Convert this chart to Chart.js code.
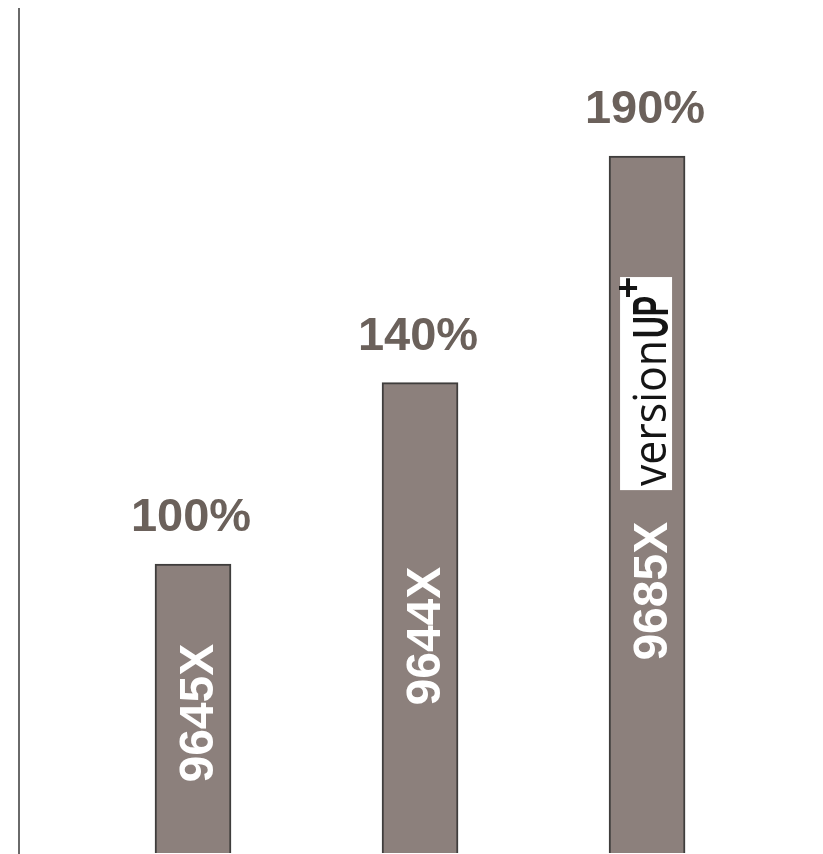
<!DOCTYPE html>
<html><head><meta charset="utf-8">
<script src="https://cdn.jsdelivr.net/npm/chart.js@4.4.1/dist/chart.umd.min.js"></script>
<style>html,body{margin:0;padding:0;background:#fff;overflow:hidden}#wrap{width:823px;height:854px}canvas{display:block}</style>
</head><body><div id="wrap"><canvas id="c" width="823" height="854" style="width:823px;height:854px"></canvas></div>
<script>
const categories = ['9645X', '9644X', '9685X'];
const performance = [100, 140, 190];
const valueLabels = ['100%', '140%', '190%'];
const logoParts = ['version', 'UP', '+'];

const barLabels = {
  id: 'barLabels',
  afterDatasetsDraw(chart, args, opts) {
    const ctx = chart.ctx;
    const ys = chart.scales.y;
    const meta = chart.getDatasetMeta(0);
    meta.data.forEach((bar, i) => {
      ctx.save();
      ctx.font = 'bold 47px "Liberation Sans", Arial, sans-serif';
      ctx.textAlign = 'center';
      ctx.textBaseline = 'alphabetic';
      ctx.fillStyle = opts.valueColor;
      ctx.fillText(valueLabels[i], bar.x - 2, bar.y - 33);
      const cy = ys.getPixelForValue(opts.namePos[i]);
      ctx.translate(bar.x + 20, cy);
      ctx.rotate(-Math.PI / 2);
      ctx.font = 'bold 48px "Liberation Sans", Arial, sans-serif';
      ctx.fillStyle = '#ffffff';
      ctx.fillText(categories[i], 0, 0);
      ctx.restore();
    });
    // logo inside last bar
    const bar = meta.data[opts.logoBar];
    const yTop = ys.getPixelForValue(opts.logoTop);
    const yBot = ys.getPixelForValue(opts.logoBottom);
    ctx.save();
    ctx.fillStyle = '#ffffff';
    ctx.fillRect(bar.x - 27, yTop, 52, yBot - yTop);
    ctx.fillStyle = '#151515';
    ctx.save();
    ctx.translate(bar.x + 19, yBot - 4);
    ctx.rotate(-Math.PI / 2);
    ctx.font = '400 46px "Open Sans", "DejaVu Sans", sans-serif';
    ctx.textAlign = 'left';
    ctx.textBaseline = 'alphabetic';
    let w = ctx.measureText(logoParts[0]).width;
    ctx.save();
    ctx.scale(146 / w, 1);
    ctx.fillText(logoParts[0], 0, 0);
    ctx.restore();
    ctx.font = '900 50px "Liberation Sans", Arial, sans-serif';
    let w2 = ctx.measureText(logoParts[1]).width;
    ctx.save();
    ctx.translate(148, 2);
    ctx.scale(42 / w2, 1);
    ctx.fillText(logoParts[1], 0, 0);
    ctx.restore();
    ctx.restore();
    ctx.font = 'bold 36px "Liberation Sans", Arial, sans-serif';
    ctx.textAlign = 'center';
    ctx.textBaseline = 'middle';
    ctx.fillText(logoParts[2], bar.x - 19, yTop + 13);
    ctx.restore();
  }
};

new Chart(document.getElementById('c'), {
  type: 'bar',
  data: {
    datasets: [{
      data: performance.map((v, i) => ({ x: i, y: v })),
      backgroundColor: '#8c807c',
      borderColor: '#3f3d3c',
      borderWidth: 2,
      borderSkipped: false,
      barThickness: 76
    }]
  },
  options: {
    responsive: false,
    animation: false,
    devicePixelRatio: 1,
    layout: { padding: { left: 19, top: 9, right: 0, bottom: 1 } },
    plugins: {
      legend: { display: false },
      tooltip: { enabled: false },
      barLabels: {
        valueColor: '#6b615b',
        namePos: [67.1, 84.1, 94.0],
        logoBar: 2,
        logoTop: 163.3,
        logoBottom: 116.3
      }
    },
    scales: {
      x: {
        type: 'linear',
        display: false,
        offset: false,
        min: -0.7665,
        max: 2.775
      },
      y: {
        display: true,
        min: 36.25,
        max: 222.43,
        ticks: { display: false },
        grid: { display: false, drawTicks: false },
        border: { display: true, color: '#6a6a6a', width: 2 }
      }
    }
  },
  plugins: [barLabels]
});
</script>
</body></html>
